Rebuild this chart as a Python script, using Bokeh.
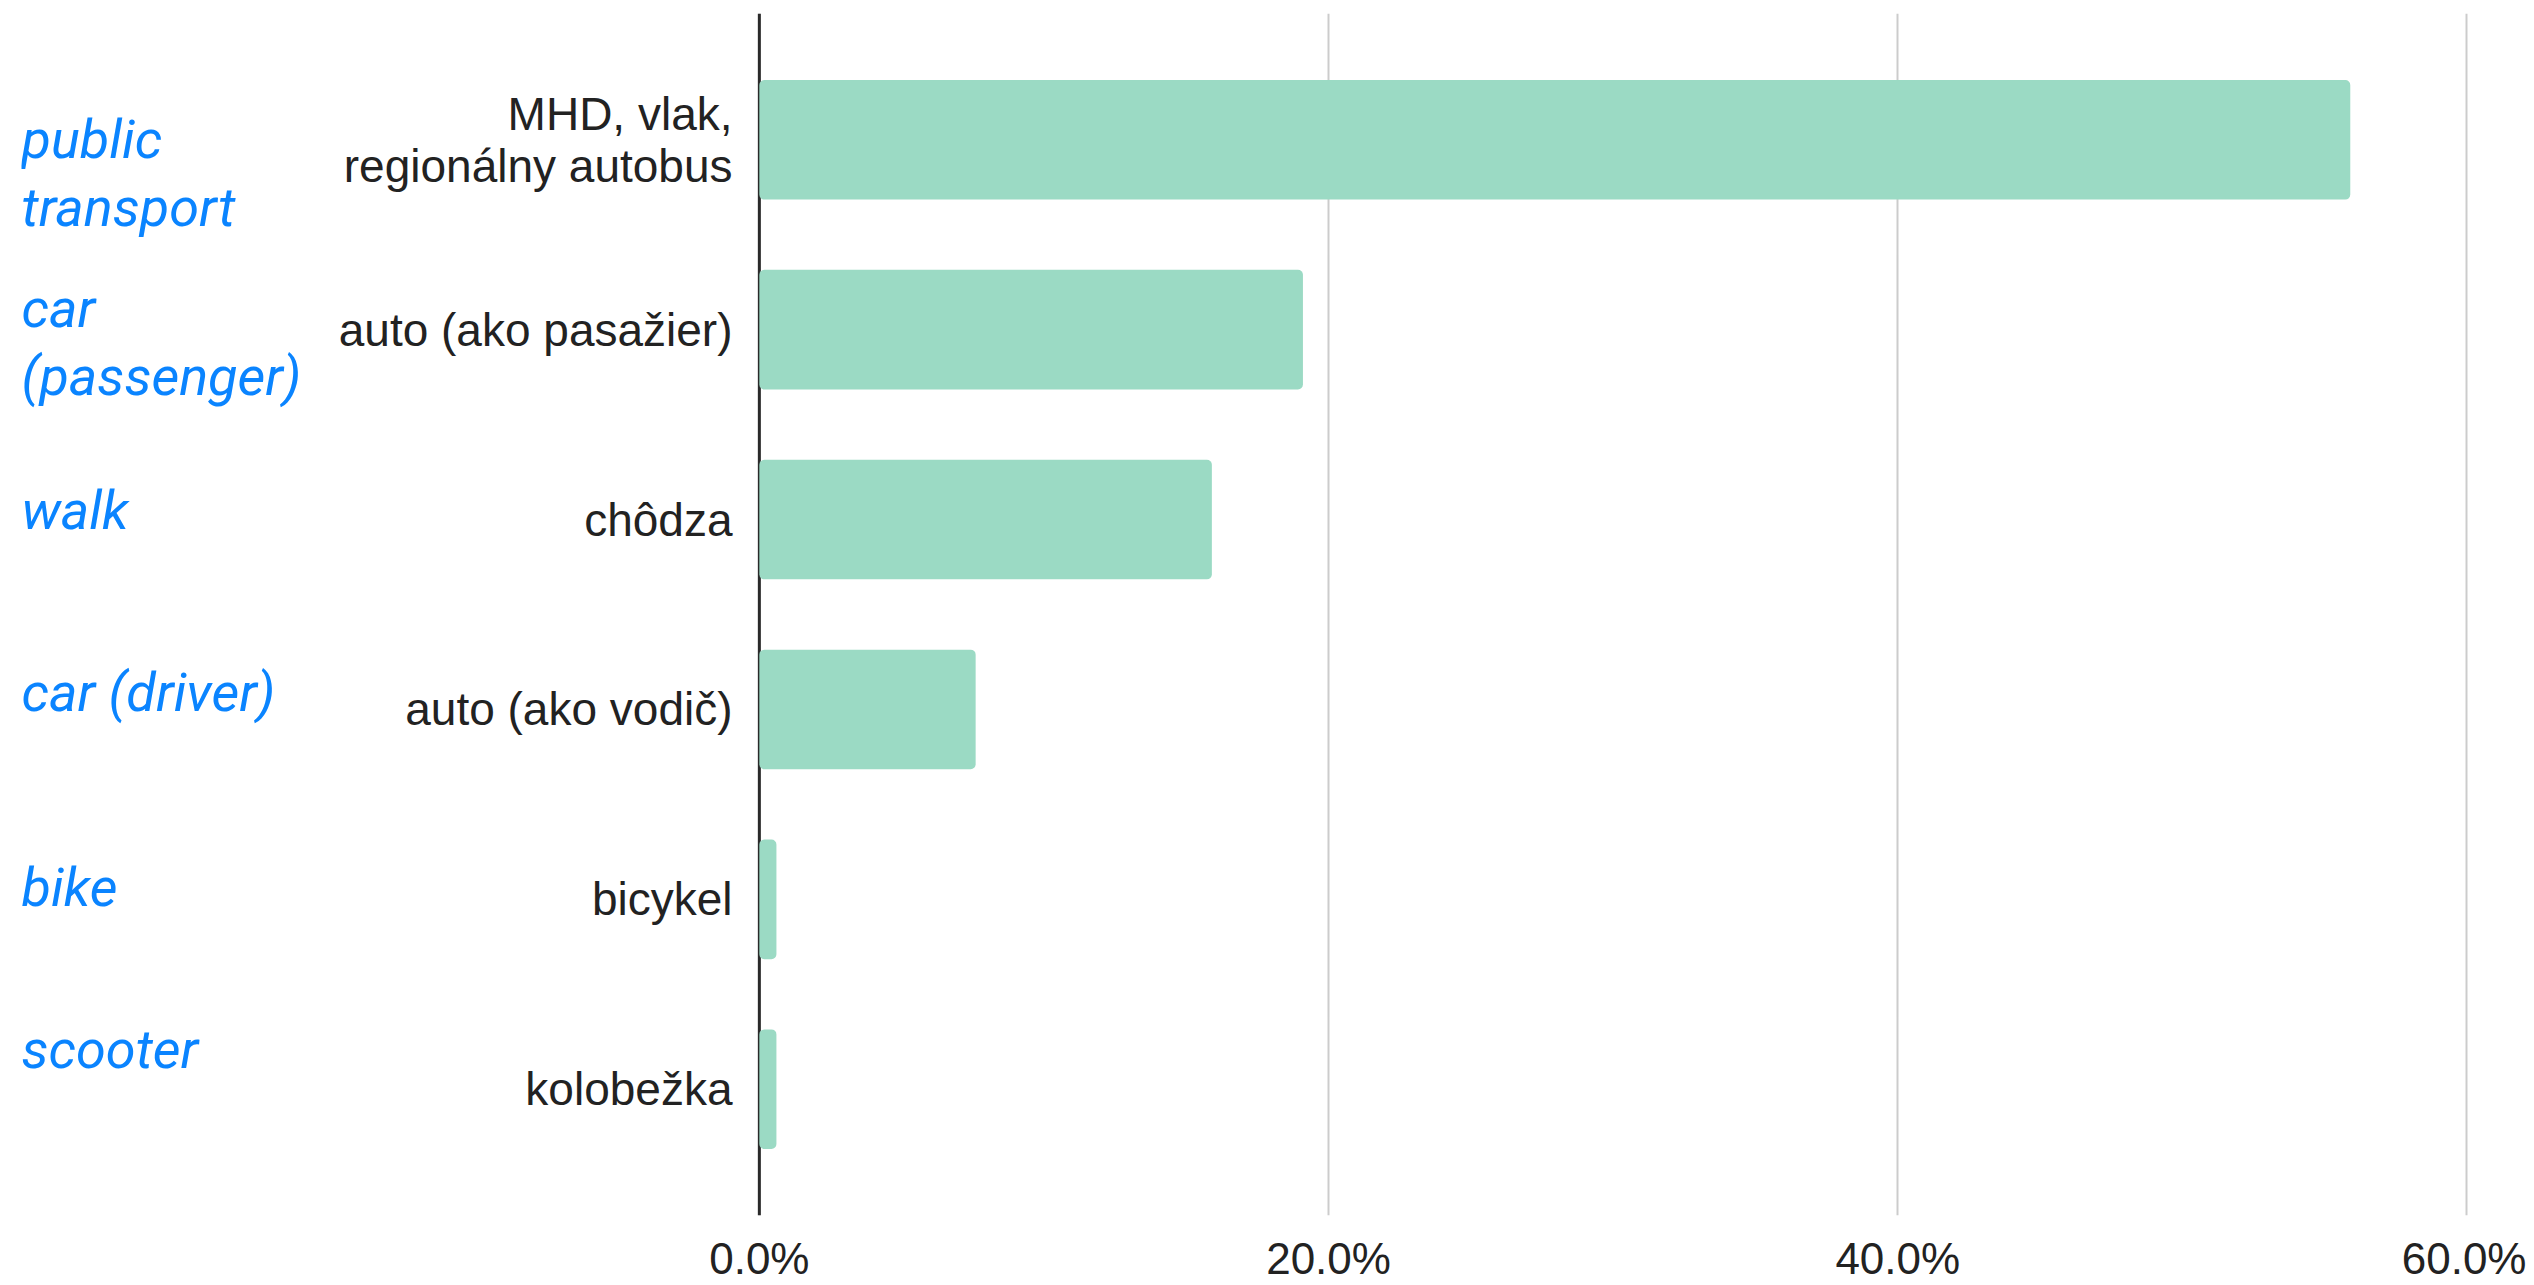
from bokeh.plotting import figure
from bokeh.layouts import row
from bokeh.models import FactorRange, Range1d, FixedTicker, PrintfTickFormatter, Span, ColumnDataSource
from bokeh.core.properties import value
from bokeh.embed import file_html
from bokeh.resources import INLINE

# ---- data ----
categories = ["MHD, vlak,\nregionálny autobus", "auto (ako pasažier)", "chôdza",
              "auto (ako vodič)", "bicykel", "kolobežka"]
shares = [55.9, 19.1, 15.9, 7.6, 0.6, 0.6]
en_labels = ["public\ntransport", "car\n(passenger)", "walk", "car (driver)", "bike", "scooter"]
en_label_offsets = [-0.18, -0.07, 0.05, 0.09, 0.06, 0.21]
x_ticks = [0, 20, 40, 60]

BAR = "#9bdac4"
BLUE = "#0a84ff"
TXT = "#222222"
FONT = "Liberation Sans"
H = 1285

y_range = FactorRange(factors=categories[::-1], range_padding=0.165, range_padding_units="absolute")


def style_xaxis(ax, hidden=False):
    ax.ticker = FixedTicker(ticks=x_ticks)
    ax.formatter = PrintfTickFormatter(format="%.1f%%")
    ax.major_label_text_font = FONT
    ax.major_label_text_font_size = "44px"
    ax.major_label_text_color = TXT
    ax.major_label_standoff = 12
    ax.axis_line_color = None
    ax.major_tick_line_color = None
    ax.minor_tick_line_color = None
    if hidden:
        ax.major_label_text_alpha = 0


# ---- left panel with English annotations ----
left = figure(width=328, height=H, x_range=Range1d(0, 1), y_range=y_range,
              output_backend="svg", toolbar_location=None, y_axis_location=None,
              min_border_left=21, min_border_top=13, min_border_right=0, min_border_bottom=0)
left.outline_line_color = None
left.grid.visible = False
style_xaxis(left.xaxis[0], hidden=True)

en_src = ColumnDataSource(dict(
    x=[0] * len(en_labels),
    y=[(c, o) for c, o in zip(categories, en_label_offsets)],
    t=en_labels,
))
left.text(x="x", y="y", text="t", source=en_src, text_align="left", text_baseline="middle",
          text_font=value("Roboto"), text_font_style="italic", text_font_size="54px",
          text_color=BLUE, text_line_height=1.08)

# ---- main chart ----
p = figure(width=2198, height=H, x_range=Range1d(-0.1, 60.3), y_range=y_range,
           output_backend="svg", toolbar_location=None,
           min_border_left=428, min_border_right=51, min_border_top=13, min_border_bottom=0)
p.outline_line_color = None
p.background_fill_color = "white"
p.ygrid.visible = False
p.xgrid.ticker = FixedTicker(ticks=x_ticks)
p.xgrid.grid_line_color = "#cccccc"
p.xgrid.grid_line_width = 2

p.add_layout(Span(location=0, dimension="height", line_color="#2a2a2a", line_width=3, level="underlay"))

src = ColumnDataSource(dict(cat=categories, share=shares))
p.hbar(y="cat", left=0, right="share", height=0.63, source=src,
       fill_color=BAR, line_color=None, border_radius=5)

style_xaxis(p.xaxis[0])
yax = p.yaxis[0]
yax.major_label_text_font = FONT
yax.major_label_text_font_size = "46px"
yax.major_label_text_color = TXT
yax.major_label_text_line_height = 1.0
yax.major_label_standoff = 18
yax.axis_line_color = None
yax.major_tick_line_color = None
yax.minor_tick_line_color = None

layout = row(left, p)
open("out.html", "w").write(file_html(layout, INLINE))
